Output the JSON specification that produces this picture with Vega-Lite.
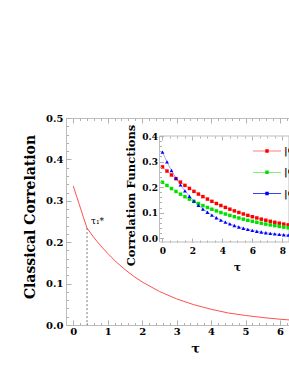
{
  "$schema": "https://vega.github.io/schema/vega-lite/v6.json",
  "width": 223,
  "height": 207,
  "autosize": "none",
  "padding": {"left": 66, "top": 118, "right": 0, "bottom": 49},
  "config": {
    "view": {"stroke": "#bdbdbd", "strokeWidth": 1},
    "font": "DejaVu Serif",
    "axis": {
      "labelFont": "DejaVu Serif",
      "labelFontWeight": "bold",
      "labelColor": "#000",
      "titleFont": "DejaVu Serif",
      "titleFontWeight": "bold",
      "titleColor": "#000",
      "tickColor": "#b0b0b0",
      "grid": false,
      "domain": false,
      "labelFlush": false,
      "labelOverlap": false,
      "labelBound": false
    }
  },
  "datasets": {
    "main": [
      {"tau": 0, "c": 0.336}, {"tau": 0.1, "c": 0.31}, {"tau": 0.2, "c": 0.285}, {"tau": 0.3, "c": 0.259},
      {"tau": 0.4, "c": 0.234}, {"tau": 0.6, "c": 0.211}, {"tau": 0.8, "c": 0.191}, {"tau": 1.0, "c": 0.173},
      {"tau": 1.25, "c": 0.152}, {"tau": 1.5, "c": 0.134}, {"tau": 1.75, "c": 0.118}, {"tau": 2.0, "c": 0.104},
      {"tau": 2.5, "c": 0.081}, {"tau": 3.0, "c": 0.063}, {"tau": 3.5, "c": 0.049}, {"tau": 4.0, "c": 0.038},
      {"tau": 4.5, "c": 0.029}, {"tau": 5.0, "c": 0.023}, {"tau": 5.5, "c": 0.018}, {"tau": 6.0, "c": 0.014},
      {"tau": 6.3, "c": 0.012}
    ],
    "marker": [{"tau": 0.4, "c": 0.234}],
    "inset": [
      {"tau": 0, "series": "|C\u0303xx|", "v": 0.279}, {"tau": 0.3, "series": "|C\u0303xx|", "v": 0.2628}, {"tau": 0.6, "series": "|C\u0303xx|", "v": 0.2474},
      {"tau": 0.9, "series": "|C\u0303xx|", "v": 0.233}, {"tau": 1.2, "series": "|C\u0303xx|", "v": 0.2195}, {"tau": 1.5, "series": "|C\u0303xx|", "v": 0.2067},
      {"tau": 1.8, "series": "|C\u0303xx|", "v": 0.1947}, {"tau": 2.1, "series": "|C\u0303xx|", "v": 0.1833}, {"tau": 2.4, "series": "|C\u0303xx|", "v": 0.1726},
      {"tau": 2.7, "series": "|C\u0303xx|", "v": 0.1626}, {"tau": 3.0, "series": "|C\u0303xx|", "v": 0.1531}, {"tau": 3.3, "series": "|C\u0303xx|", "v": 0.1442},
      {"tau": 3.6, "series": "|C\u0303xx|", "v": 0.1358}, {"tau": 3.9, "series": "|C\u0303xx|", "v": 0.1279}, {"tau": 4.2, "series": "|C\u0303xx|", "v": 0.1204},
      {"tau": 4.5, "series": "|C\u0303xx|", "v": 0.1134}, {"tau": 4.8, "series": "|C\u0303xx|", "v": 0.1068}, {"tau": 5.1, "series": "|C\u0303xx|", "v": 0.1006},
      {"tau": 5.4, "series": "|C\u0303xx|", "v": 0.0947}, {"tau": 5.7, "series": "|C\u0303xx|", "v": 0.0892}, {"tau": 6.0, "series": "|C\u0303xx|", "v": 0.084},
      {"tau": 6.3, "series": "|C\u0303xx|", "v": 0.0792}, {"tau": 6.6, "series": "|C\u0303xx|", "v": 0.0745}, {"tau": 6.9, "series": "|C\u0303xx|", "v": 0.0702},
      {"tau": 7.2, "series": "|C\u0303xx|", "v": 0.0661}, {"tau": 7.5, "series": "|C\u0303xx|", "v": 0.0622}, {"tau": 7.8, "series": "|C\u0303xx|", "v": 0.0586},
      {"tau": 8.1, "series": "|C\u0303xx|", "v": 0.0552}, {"tau": 8.4, "series": "|C\u0303xx|", "v": 0.052},
      {"tau": 0, "series": "|C\u0303yy|", "v": 0.219}, {"tau": 0.3, "series": "|C\u0303yy|", "v": 0.2063}, {"tau": 0.6, "series": "|C\u0303yy|", "v": 0.1942},
      {"tau": 0.9, "series": "|C\u0303yy|", "v": 0.1829}, {"tau": 1.2, "series": "|C\u0303yy|", "v": 0.1723}, {"tau": 1.5, "series": "|C\u0303yy|", "v": 0.1622},
      {"tau": 1.8, "series": "|C\u0303yy|", "v": 0.1528}, {"tau": 2.1, "series": "|C\u0303yy|", "v": 0.1439}, {"tau": 2.4, "series": "|C\u0303yy|", "v": 0.1355},
      {"tau": 2.7, "series": "|C\u0303yy|", "v": 0.1276}, {"tau": 3.0, "series": "|C\u0303yy|", "v": 0.1202}, {"tau": 3.3, "series": "|C\u0303yy|", "v": 0.1132},
      {"tau": 3.6, "series": "|C\u0303yy|", "v": 0.1066}, {"tau": 3.9, "series": "|C\u0303yy|", "v": 0.1004}, {"tau": 4.2, "series": "|C\u0303yy|", "v": 0.0945},
      {"tau": 4.5, "series": "|C\u0303yy|", "v": 0.089}, {"tau": 4.8, "series": "|C\u0303yy|", "v": 0.0839}, {"tau": 5.1, "series": "|C\u0303yy|", "v": 0.079},
      {"tau": 5.4, "series": "|C\u0303yy|", "v": 0.0744}, {"tau": 5.7, "series": "|C\u0303yy|", "v": 0.07}, {"tau": 6.0, "series": "|C\u0303yy|", "v": 0.066},
      {"tau": 6.3, "series": "|C\u0303yy|", "v": 0.0621}, {"tau": 6.6, "series": "|C\u0303yy|", "v": 0.0585}, {"tau": 6.9, "series": "|C\u0303yy|", "v": 0.0551},
      {"tau": 7.2, "series": "|C\u0303yy|", "v": 0.0519}, {"tau": 7.5, "series": "|C\u0303yy|", "v": 0.0489}, {"tau": 7.8, "series": "|C\u0303yy|", "v": 0.046},
      {"tau": 8.1, "series": "|C\u0303yy|", "v": 0.0433}, {"tau": 8.4, "series": "|C\u0303yy|", "v": 0.0408},
      {"tau": 0, "series": "|C\u0303zz|", "v": 0.337}, {"tau": 0.3, "series": "|C\u0303zz|", "v": 0.2989}, {"tau": 0.6, "series": "|C\u0303zz|", "v": 0.2651},
      {"tau": 0.9, "series": "|C\u0303zz|", "v": 0.2351}, {"tau": 1.2, "series": "|C\u0303zz|", "v": 0.2085}, {"tau": 1.5, "series": "|C\u0303zz|", "v": 0.1849},
      {"tau": 1.8, "series": "|C\u0303zz|", "v": 0.164}, {"tau": 2.1, "series": "|C\u0303zz|", "v": 0.1455}, {"tau": 2.4, "series": "|C\u0303zz|", "v": 0.129},
      {"tau": 2.7, "series": "|C\u0303zz|", "v": 0.1144}, {"tau": 3.0, "series": "|C\u0303zz|", "v": 0.1015}, {"tau": 3.3, "series": "|C\u0303zz|", "v": 0.09},
      {"tau": 3.6, "series": "|C\u0303zz|", "v": 0.0798}, {"tau": 3.9, "series": "|C\u0303zz|", "v": 0.0708}, {"tau": 4.2, "series": "|C\u0303zz|", "v": 0.0628},
      {"tau": 4.5, "series": "|C\u0303zz|", "v": 0.0557}, {"tau": 4.8, "series": "|C\u0303zz|", "v": 0.0494}, {"tau": 5.1, "series": "|C\u0303zz|", "v": 0.0438},
      {"tau": 5.4, "series": "|C\u0303zz|", "v": 0.0389}, {"tau": 5.7, "series": "|C\u0303zz|", "v": 0.0345}, {"tau": 6.0, "series": "|C\u0303zz|", "v": 0.0306},
      {"tau": 6.3, "series": "|C\u0303zz|", "v": 0.0271}, {"tau": 6.6, "series": "|C\u0303zz|", "v": 0.0241}, {"tau": 6.9, "series": "|C\u0303zz|", "v": 0.0213},
      {"tau": 7.2, "series": "|C\u0303zz|", "v": 0.0189}, {"tau": 7.5, "series": "|C\u0303zz|", "v": 0.0168}, {"tau": 7.8, "series": "|C\u0303zz|", "v": 0.0149},
      {"tau": 8.1, "series": "|C\u0303zz|", "v": 0.0132}, {"tau": 8.4, "series": "|C\u0303zz|", "v": 0.0117}
    ]
  },
  "layer": [
    {
      "resolve": {"axis": {"x": "independent", "y": "independent"}},
      "layer": [
        {
          "data": {"name": "main"},
          "mark": {"type": "line", "color": "#ff5050", "strokeWidth": 1, "clip": true},
          "encoding": {
            "x": {
              "field": "tau", "type": "quantitative",
              "scale": {"domain": [-0.21, 6.26], "nice": false, "zero": false},
              "axis": {
                "orient": "bottom",
                "values": [0,0.2,0.4,0.6,0.8,1,1.2,1.4,1.6,1.8,2,2.2,2.4,2.6,2.8,3,3.2,3.4,3.6,3.8,4,4.2,4.4,4.6,4.8,5,5.2,5.4,5.6,5.8,6,6.2],
                "labelExpr": "abs(datum.value-round(datum.value))<1e-6 ? format(datum.value,'d') : ''",
                "tickSize": {"condition": {"test": "abs(datum.value-round(datum.value))<1e-6", "value": -5}, "value": -2.5},
                "labelOverlap": false,
                "labelFontSize": 10,
                "labelPadding": 6,
                "title": "τ",
                "titleFontSize": 13,
                "titleX": 129,
                "titlePadding": 4
              }
            },
            "y": {
              "field": "c", "type": "quantitative",
              "scale": {"domain": [0, 0.5], "nice": false, "zero": false},
              "axis": {
                "orient": "left",
                "values": [0, 0.1, 0.2, 0.3, 0.4, 0.5],
                "format": ".1f",
                "tickSize": -5,
                "labelOverlap": false,
                "labelFontSize": 10,
                "labelPadding": 8,
                "title": "Classical Correlation",
                "titleFontSize": 14,
                "titleY": 98.5,
                "titlePadding": 8
              }
            }
          }
        },
        {
          "data": {"name": "marker"},
          "mark": {"type": "rule", "color": "#555555", "strokeWidth": 0.8, "strokeDash": [2, 2]},
          "encoding": {
            "x": {
              "field": "tau", "type": "quantitative",
              "scale": {"domain": [-0.21, 6.26], "nice": false, "zero": false},
              "axis": {
                "orient": "top",
                "values": [0,0.2,0.4,0.6,0.8,1,1.2,1.4,1.6,1.8,2,2.2,2.4,2.6,2.8,3,3.2,3.4,3.6,3.8,4,4.2,4.4,4.6,4.8,5,5.2,5.4,5.6,5.8,6,6.2],
                "labels": false,
                "tickSize": {"condition": {"test": "abs(datum.value-round(datum.value))<1e-6", "value": -5}, "value": -2.5},
                "title": null
              }
            },
            "y": {
              "field": "c", "type": "quantitative",
              "scale": {"domain": [0, 0.5], "nice": false, "zero": false},
              "axis": {
                "orient": "left",
                "values": [0.02,0.04,0.06,0.08,0.12,0.14,0.16,0.18,0.22,0.24,0.26,0.28,0.32,0.34,0.36,0.38,0.42,0.44,0.46,0.48],
                "labels": false,
                "tickSize": -2.5,
                "title": null
              }
            },
            "y2": {"datum": 0}
          }
        },
        {
          "data": {"name": "marker"},
          "mark": {"type": "text", "text": "τ₁*", "font": "DejaVu Serif", "fontSize": 9, "align": "left", "baseline": "middle", "dx": 4, "dy": -7},
          "encoding": {
            "x": {"field": "tau", "type": "quantitative", "axis": null},
            "y": {"field": "c", "type": "quantitative", "axis": null}
          }
        }
      ]
    },
    {
      "resolve": {"axis": {"x": "independent", "y": "independent"}},
      "layer": [
        {
          "data": {"values": [{"x0": -0.2, "x1": 8.45, "v": -0.015, "v2": 0.4}]},
          "mark": {"type": "rect", "fill": "#ffffff", "stroke": "#bdbdbd", "strokeWidth": 1},
          "encoding": {
            "x": {"field": "x0", "type": "quantitative", "scale": {"domain": [-0.2, 8.45], "range": [93.5, 223], "nice": false, "zero": false}, "axis": null},
            "x2": {"field": "x1"},
            "y": {
              "field": "v", "type": "quantitative",
              "scale": {"domain": [-0.015, 0.4], "range": [124, 18], "nice": false, "zero": false},
              "axis": {
                "orient": "left",
                "offset": -93.5,
                "zindex": 2,
                "values": [0.02,0.04,0.06,0.08,0.12,0.14,0.16,0.18,0.22,0.24,0.26,0.28,0.32,0.34,0.36,0.38],
                "labels": false,
                "tickSize": -2,
                "title": null
              }
            },
            "y2": {"field": "v2"}
          }
        },
        {
          "data": {"name": "inset"},
          "mark": {"type": "line", "strokeWidth": 1, "strokeOpacity": 0.35, "clip": true},
          "encoding": {
            "x": {
              "field": "tau", "type": "quantitative",
              "scale": {"domain": [-0.2, 8.45], "range": [93.5, 223], "nice": false, "zero": false},
              "axis": {
                "orient": "top",
                "offset": -18,
                "zindex": 2,
                "values": [0,0.5,1,1.5,2,2.5,3,3.5,4,4.5,5,5.5,6,6.5,7,7.5,8],
                "labels": false,
                "tickSize": {"condition": {"test": "abs(datum.value/2-round(datum.value/2))<1e-6", "value": -4}, "value": -2},
                "title": null
              }
            },
            "y": {"field": "v", "type": "quantitative", "scale": {"domain": [-0.015, 0.4], "range": [124, 18], "nice": false, "zero": false}, "axis": null},
            "color": {"field": "series", "type": "nominal"},
            "detail": {"field": "series"}
          }
        },
        {
          "data": {"name": "inset"},
          "transform": [{"filter": "datum.series !== '|C\u0303zz|'"}],
          "mark": {"type": "point", "filled": true, "opacity": 1, "size": 12, "shape": "square", "clip": true},
          "encoding": {
            "x": {
              "field": "tau", "type": "quantitative",
              "scale": {"domain": [-0.2, 8.45], "range": [93.5, 223], "nice": false, "zero": false},
              "axis": {
                "orient": "bottom",
                "offset": -83,
                "zindex": 2,
                "values": [0,0.5,1,1.5,2,2.5,3,3.5,4,4.5,5,5.5,6,6.5,7,7.5,8],
                "labelExpr": "abs(datum.value/2-round(datum.value/2))<1e-6 ? format(datum.value,'d') : ''",
                "tickSize": {"condition": {"test": "abs(datum.value/2-round(datum.value/2))<1e-6", "value": -4}, "value": -2},
                "labelOverlap": false,
                "labelFontSize": 9,
                "labelPadding": 8,
                "title": "τ",
                "titleFontSize": 11,
                "titleX": 171,
                "titlePadding": 4
              }
            },
            "y": {
              "field": "v", "type": "quantitative",
              "scale": {"domain": [-0.015, 0.4], "range": [124, 18], "nice": false, "zero": false},
              "axis": {
                "orient": "left",
                "offset": -93.5,
                "zindex": 2,
                "values": [0, 0.1, 0.2, 0.3, 0.4],
                "format": ".1f",
                "tickSize": -4,
                "labelOverlap": false,
                "labelFontSize": 9,
                "labelPadding": 6,
                "title": "Correlation Functions",
                "titleFontSize": 11.5,
                "titleY": 77,
                "titlePadding": 5
              }
            },
            "color": {
              "field": "series", "type": "nominal",
              "scale": {"domain": ["|C\u0303xx|", "|C\u0303yy|", "|C\u0303zz|"], "range": ["#ff0000", "#00e000", "#0000ff"]},
              "legend": {
                "orient": "none",
                "legendX": 194,
                "legendY": 26,
                "title": null,
                "padding": 0,
                "symbolType": "M-2,-0.045H2V0.045H-2ZM-0.25,-0.25H0.25V0.25H-0.25Z",
                "symbolSize": 196,
                "symbolOpacity": 1,
                "symbolStrokeWidth": 0,
                "rowPadding": 9.3,
                "labelFont": "DejaVu Serif",
                "labelFontSize": 10,
                "labelFontWeight": "bold",
                "labelColor": "#000",
                "labelOffset": 10,
                "zindex": 3
              }
            }
          }
        },
        {
          "data": {"name": "inset"},
          "transform": [{"filter": "datum.series === '|C\u0303zz|'"}],
          "mark": {"type": "point", "filled": true, "opacity": 1, "size": 15, "shape": "triangle-up", "clip": true},
          "encoding": {
            "x": {"field": "tau", "type": "quantitative", "scale": {"domain": [-0.2, 8.45], "range": [93.5, 223], "nice": false, "zero": false}, "axis": null},
            "y": {"field": "v", "type": "quantitative", "scale": {"domain": [-0.015, 0.4], "range": [124, 18], "nice": false, "zero": false}, "axis": null},
            "color": {"field": "series", "type": "nominal"}
          }
        }
      ]
    }
  ],
  "resolve": {
    "scale": {"x": "independent", "y": "independent"},
    "axis": {"x": "independent", "y": "independent"}
  }
}
